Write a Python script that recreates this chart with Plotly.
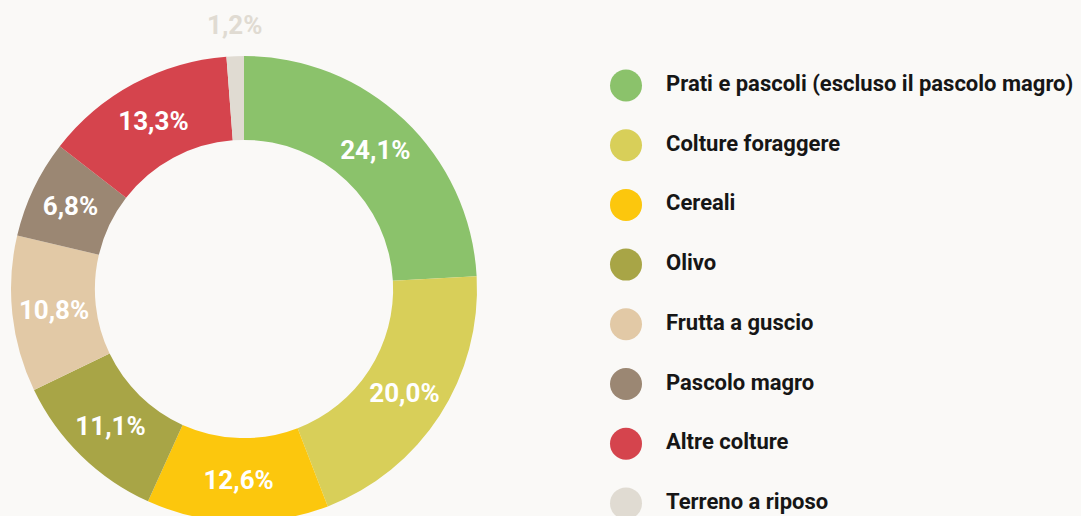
import math
import plotly.graph_objects as go

categories = [
    "Prati e pascoli (escluso il pascolo magro)",
    "Colture foraggere",
    "Cereali",
    "Olivo",
    "Frutta a guscio",
    "Pascolo magro",
    "Altre colture",
    "Terreno a riposo",
]
values = [24.1, 20.0, 12.6, 11.1, 10.8, 6.8, 13.3, 1.2]
colors = ["#8BC26B", "#D8CF59", "#FCC70D", "#A8A546", "#E2C9A6", "#9B8773", "#D5444D", "#E0DBD2"]

labels_txt = [f"{v:.1f}".replace(".", ",") + "%" for v in values]
# last (tiny) slice gets its label outside, drawn as an annotation
positions = ["inside"] * (len(values) - 1) + ["none"]

W, H = 1081, 522
BG = "#FAF9F7"
FONT = "Roboto"

cx, cy_top, r = 244, 289, 233
hole = 0.64

fig = go.Figure()
fig.add_trace(go.Pie(
    labels=categories,
    values=values,
    sort=False,
    direction="clockwise",
    rotation=0,
    hole=hole,
    marker=dict(colors=colors, line=dict(width=0)),
    text=labels_txt,
    textinfo="text",
    textposition=positions,
    insidetextorientation="horizontal",
    textfont=dict(family=FONT, size=26, color="#FFFFFF", weight="bold"),
    domain=dict(x=[(cx - r) / W, (cx + r) / W], y=[(H - cy_top - r) / H, (H - cy_top + r) / H]),
    showlegend=False,
    hoverinfo="label+percent",
))

# outside label for the last slice, placed at its mid angle
total = sum(values)
mid = (sum(values[:-1]) + values[-1] / 2) / total * 2 * math.pi
r_lab = r + 31
lx = cx + r_lab * math.sin(mid)
ly = cy_top - r_lab * math.cos(mid)
fig.add_annotation(
    x=lx / W, y=(H - ly) / H, xref="paper", yref="paper",
    text=labels_txt[-1], showarrow=False, xanchor="center", yanchor="middle",
    font=dict(family=FONT, size=26, color=colors[-1], weight="bold"),
)

# custom circular legend
n = len(categories)
leg_y = list(range(n))
fig.add_trace(go.Scatter(
    x=[0] * n, y=leg_y, mode="markers",
    marker=dict(size=32, color=colors, line=dict(width=0)),
    showlegend=False, hoverinfo="skip", xaxis="x", yaxis="y",
))
fig.add_trace(go.Scatter(
    x=[1] * n, y=leg_y, mode="text", text=categories, textposition="middle right",
    textfont=dict(family=FONT, size=22, color="#161616", weight="bold"),
    showlegend=False, hoverinfo="skip", xaxis="x", yaxis="y",
))

lx0 = 626
top0, step = 85.5, 59.7
fig.update_layout(
    width=W, height=H,
    margin=dict(l=0, r=0, t=0, b=0),
    paper_bgcolor=BG, plot_bgcolor=BG,
    xaxis=dict(domain=[0, 1], range=[-lx0 / 40, (W - lx0) / 40], visible=False, fixedrange=True),
    yaxis=dict(domain=[0, 1], range=[(H - top0) / step, -top0 / step], visible=False, fixedrange=True),
)

fig.write_html(
    "out.html",
    config={"displayModeBar": False},
    post_script="document.body.style.margin='0';document.body.style.overflow='hidden';"
                "document.body.style.background='" + BG + "';",
)
